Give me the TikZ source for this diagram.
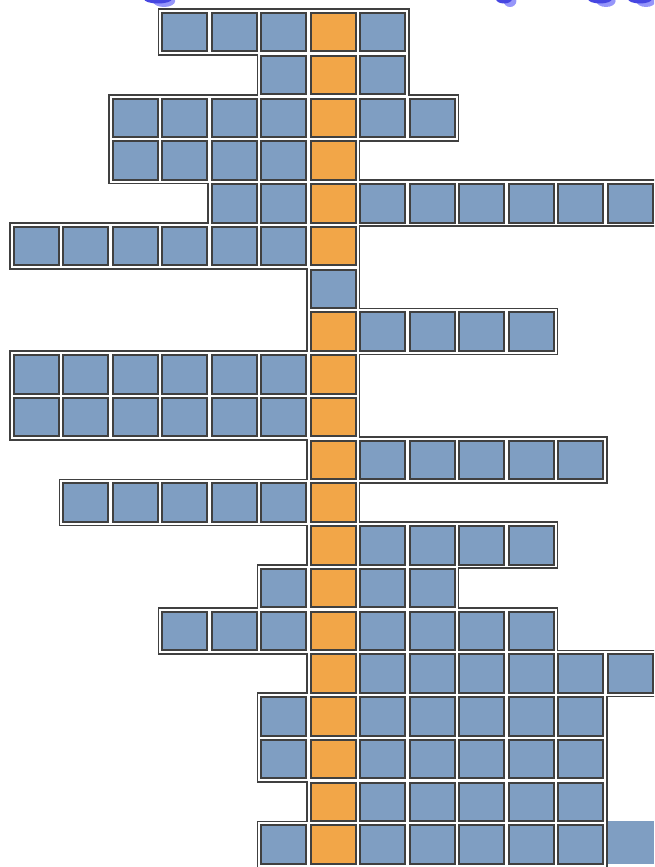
\documentclass[tikz,border=0pt]{standalone}
\usepackage{tikz}
\definecolor{cellblue}{RGB}{127,158,194}
\definecolor{cellorange}{RGB}{242,166,72}
\definecolor{edge}{RGB}{64,64,64}
\definecolor{blobdark}{RGB}{70,70,225}
\definecolor{bloblight}{RGB}{150,150,250}
\tikzset{
  cellbox/.style={draw=edge,line width=2pt},
  rowline/.style={draw=edge,line width=1.8pt},
}
\newcommand{\colL}[1]{12.7+49.5*#1}
\newcommand{\rowT}[1]{12+42.75*#1}
\begin{document}
\begin{tikzpicture}[x=1pt,y=-1pt]
\useasboundingbox (0,0) rectangle (654,867);
\begin{scope}
\clip (0,0) rectangle (654,867);
% blobs at the top edge
\foreach \bx/\bw in {160/14,506/8,602/12,642/12}{
  \pgfmathsetmacro{\lw}{\bw*0.8}
  \fill[bloblight] (\bx+4,1) ellipse [x radius=\lw pt, y radius=6pt];
  \fill[blobdark] (\bx-2,-1) ellipse [x radius=\bw pt, y radius=4.5pt];
}
% row outlines (union boundary)
\def\rows{0/3/7,1/5/7,2/2/8,3/2/6,4/4/12,5/0/6,6/6/6,7/6/10,8/0/6,9/0/6,10/6/11,11/1/6,12/6/10,13/5/8,14/3/10,15/6/12,16/5/11,17/5/11,18/6/11,19/5/11}
\foreach \r/\a/\b in \rows{
  \draw[rowline] ({\colL{\a}-2.8},{\rowT{\r}-2.8}) rectangle ({\colL{\b}+47+2.8},{\rowT{\r}+40.5+2.8});
}
\foreach \r/\a/\b in \rows{
  \fill[white] ({\colL{\a}-1.85},{\rowT{\r}-1.85}) rectangle ({\colL{\b}+47+1.85},{\rowT{\r}+40.5+1.85});
}
% cells
\foreach \r/\a/\b in \rows{
  \foreach \c in {\a,...,\b}{
    \pgfmathsetmacro{\isorange}{(\c==6 && \r!=6) ? 1 : 0}
    \ifdim\isorange pt>0.5pt
      \def\fc{cellorange}
    \else
      \def\fc{cellblue}
    \fi
    \path[cellbox,fill=\fc] ({\colL{\c}+1},{\rowT{\r}+1}) rectangle ({\colL{\c}+46},{\rowT{\r}+39.5});
  }
}
% plain extra block
\fill[cellblue] (608.3,821) rectangle (654,864);
\end{scope}
\end{tikzpicture}
\end{document}
